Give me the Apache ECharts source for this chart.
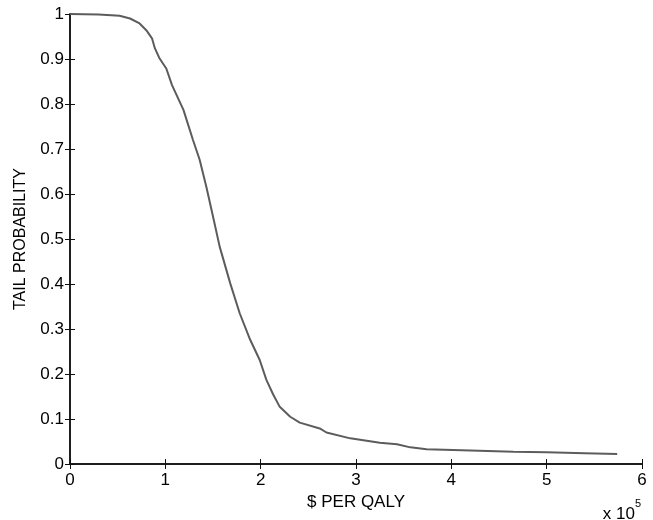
<!DOCTYPE html>
<html>
<head>
<meta charset="utf-8">
<script src="https://cdn.jsdelivr.net/npm/echarts@6/dist/echarts.min.js"></script>
<style>
  html, body { margin: 0; padding: 0; background: #fff; }
  #chart { width: 653px; height: 520px; }
</style>
</head>
<body>
<div id="chart"></div>
<script>
// cost per QALY, in units of 1e5 dollars
var costX = [0, 0.3, 0.52, 0.63, 0.73, 0.80, 0.86, 0.89, 0.94, 1.01,
  1.07, 1.19, 1.29, 1.36, 1.43, 1.50, 1.57, 1.68, 1.78, 1.89,
  1.99, 2.06, 2.13, 2.20, 2.31, 2.41, 2.62, 2.69, 2.94, 3.25,
  3.43, 3.57, 3.74, 4.2, 4.65, 5.0, 5.4, 5.74];
// tail probability at each cost
var tailProb = [1, 0.999, 0.996, 0.99, 0.979, 0.964, 0.946, 0.924, 0.901, 0.879,
  0.842, 0.787, 0.72, 0.676, 0.616, 0.55, 0.483, 0.402, 0.335, 0.276,
  0.231, 0.187, 0.155, 0.127, 0.105, 0.092, 0.079, 0.07, 0.057, 0.047,
  0.044, 0.037, 0.033, 0.03, 0.027, 0.026, 0.024, 0.022];

var points = costX.map(function (x, i) { return [x, tailProb[i]]; });

var font = 'Liberation Sans, Arial, Helvetica, sans-serif';
var axisCol = '#111';
var textCol = '#000';

var chart = echarts.init(document.getElementById('chart'));
chart.setOption({
  animation: false,
  grid: { left: 70, right: 11, top: 14, bottom: 56, containLabel: false },
  xAxis: [
    {
      type: 'value', min: 0, max: 6, interval: 1, position: 'bottom',
      name: '$ PER QALY', nameLocation: 'middle', nameGap: 28,
      nameTextStyle: { fontFamily: font, fontSize: 17, color: textCol },
      axisLine: { show: true, lineStyle: { color: axisCol, width: 1.5 } },
      axisTick: { show: true, inside: true, length: 5, lineStyle: { color: axisCol } },
      axisLabel: { margin: 8, fontFamily: font, fontSize: 17, color: textCol },
      splitLine: { show: false }
    },
    {
      type: 'value', min: 0, max: 6, interval: 1, position: 'top',
      axisLine: { show: true, lineStyle: { color: axisCol, width: 1.5 } },
      axisTick: { show: true, inside: true, length: 5, lineStyle: { color: axisCol } },
      axisLabel: { show: false },
      splitLine: { show: false }
    }
  ],
  yAxis: [
    {
      type: 'value', min: 0, max: 1, interval: 0.1, position: 'left',
      name: 'TAIL PROBABILITY', nameLocation: 'middle', nameGap: 41,
      nameTextStyle: { fontFamily: font, fontSize: 16, color: textCol },
      axisLine: { show: true, lineStyle: { color: axisCol, width: 1.5 } },
      axisTick: { show: true, inside: true, length: 5, lineStyle: { color: axisCol } },
      axisLabel: { margin: 6, fontFamily: font, fontSize: 17, color: textCol },
      splitLine: { show: false }
    },
    {
      type: 'value', min: 0, max: 1, interval: 0.1, position: 'right',
      axisLine: { show: true, lineStyle: { color: axisCol, width: 1.5 } },
      axisTick: { show: true, inside: true, length: 5, lineStyle: { color: axisCol } },
      axisLabel: { show: false },
      splitLine: { show: false }
    }
  ],
  graphic: [
    {
      type: 'text', right: 12, top: 498,
      style: {
        text: '{b|x 10}{s|5}',
        rich: {
          b: { fontFamily: font, fontSize: 17, fill: textCol, padding: [8, 0, 0, 0] },
          s: { fontFamily: font, fontSize: 11, fill: textCol, verticalAlign: 'top', padding: [0, 0, 8, 0] }
        }
      }
    }
  ],
  series: [
    {
      type: 'line', xAxisIndex: 0, yAxisIndex: 0,
      data: points, showSymbol: false, smooth: false,
      lineStyle: { color: '#5c5c5c', width: 2 }
    }
  ]
});
</script>
</body>
</html>
